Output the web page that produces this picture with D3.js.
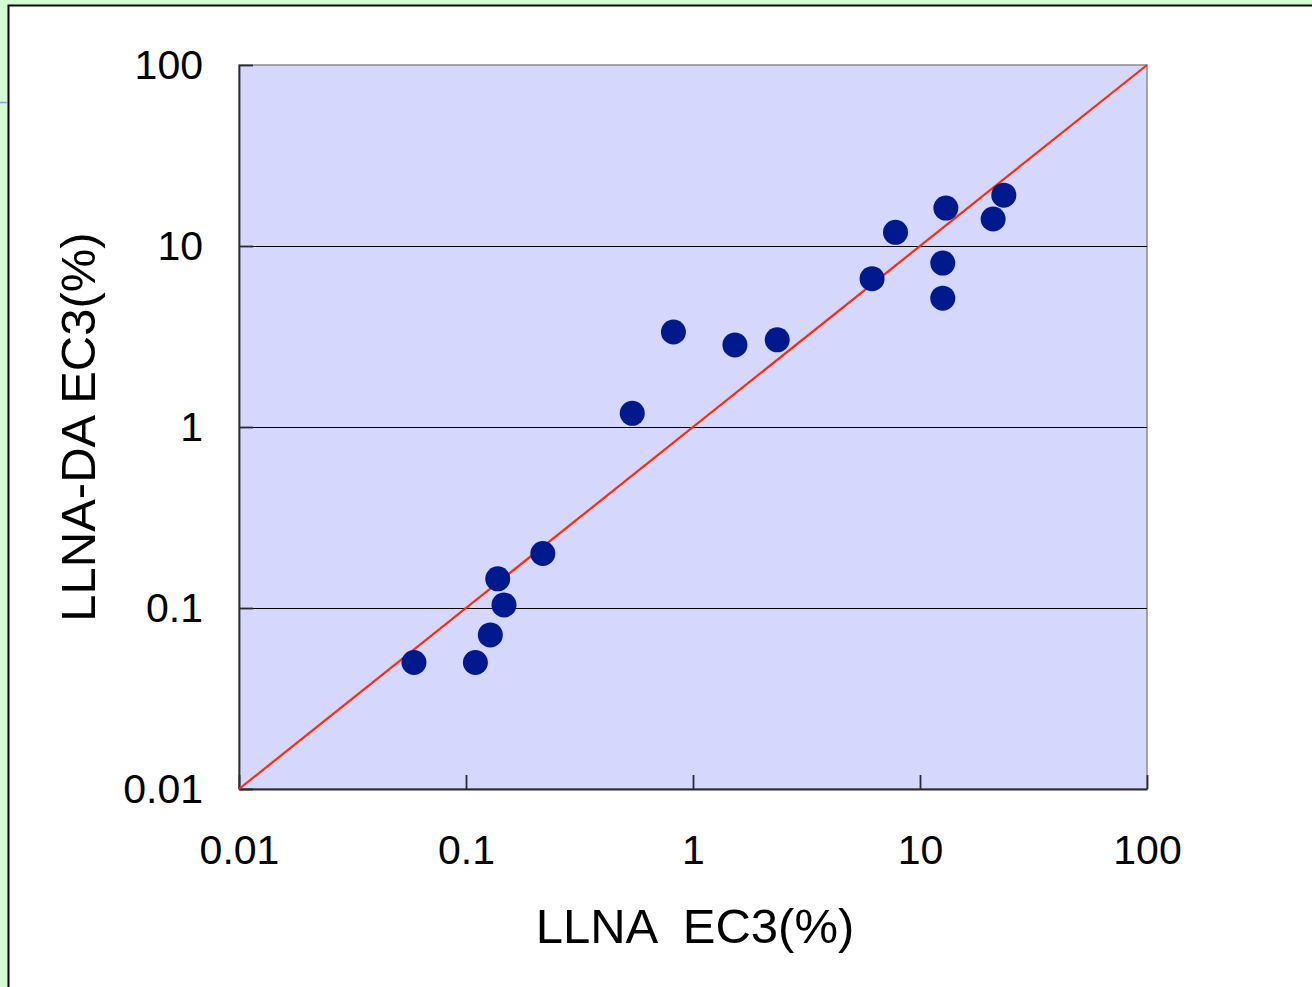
<!DOCTYPE html>
<html>
<head>
<meta charset="utf-8">
<script src="https://cdn.jsdelivr.net/npm/d3@7"></script>
<style>
  html, body { margin: 0; padding: 0; background: #d5fbd5; overflow: hidden; }
  text { font-family: "Liberation Sans", Arial, sans-serif; fill: #000; }
</style>
</head>
<body>
<svg class="chart"></svg>
<script>
// LLNA EC3 (%) vs LLNA-DA EC3 (%)
const llnaEC3   = [0.059, 0.11, 0.128, 0.138, 0.147, 0.218, 0.54, 0.82, 1.53, 2.35, 6.15, 7.8, 12.6, 12.6, 13.0, 21.0, 23.4];
const llnaDaEC3 = [0.05, 0.05, 0.071, 0.145, 0.104, 0.2, 1.19, 3.35, 2.84, 3.03, 6.6, 11.9, 8.05, 5.15, 16.2, 14.1, 19.1];
const tickValues = [0.01, 0.1, 1, 10, 100];
const tickLabels = ['0.01', '0.1', '1', '10', '100'];
const gridValues = [0.1, 1, 10];

const data = llnaEC3.map((x, i) => ({ x: x, y: llnaDaEC3[i] }));

const dims = { width: 1312, height: 987 };
const plot = { left: 239, top: 65, right: 1147, bottom: 789 };

const svg = d3.select('.chart')
  .attr('width', dims.width)
  .attr('height', dims.height);

// white panel with black frame
svg.append('rect')
  .attr('x', 8.5).attr('y', 5.5)
  .attr('width', dims.width + 20).attr('height', dims.height + 20)
  .attr('fill', '#fff')
  .attr('stroke', '#000')
  .attr('stroke-width', 2);

svg.append('line')
  .attr('x1', 0).attr('x2', 7).attr('y1', 102.5).attr('y2', 102.5)
  .attr('stroke', '#8e9bf2').attr('stroke-width', 1.5);

const x = d3.scaleLog().domain([0.01, 100]).range([plot.left, plot.right]);
const y = d3.scaleLog().domain([0.01, 100]).range([plot.bottom, plot.top]);

const graph = svg.append('g');

graph.append('rect')
  .attr('x', plot.left).attr('y', plot.top)
  .attr('width', plot.right - plot.left)
  .attr('height', plot.bottom - plot.top)
  .attr('fill', '#d5d7fc')
  .attr('stroke', '#8b8b98')
  .attr('stroke-width', 1.5);

graph.selectAll('line.grid')
  .data(gridValues)
  .enter()
  .append('line')
  .attr('class', 'grid')
  .attr('x1', plot.left).attr('x2', plot.right)
  .attr('y1', d => Math.round(y(d)) + 0.5)
  .attr('y2', d => Math.round(y(d)) + 0.5)
  .attr('stroke', '#000')
  .attr('stroke-width', 1.2);

// axes, ticks pointing into the plot
const xAxis = d3.axisBottom(x)
  .tickValues(tickValues)
  .tickFormat((d, i) => tickLabels[i])
  .tickSizeInner(-14)
  .tickSizeOuter(0)
  .tickPadding(45);

const yAxis = d3.axisLeft(y)
  .tickValues(tickValues)
  .tickFormat((d, i) => tickLabels[i])
  .tickSizeInner(-14)
  .tickSizeOuter(0)
  .tickPadding(36);

const gx = graph.append('g')
  .attr('transform', `translate(0, ${plot.bottom})`)
  .call(xAxis);

const gy = graph.append('g')
  .attr('transform', `translate(${plot.left}, 0)`)
  .call(yAxis);

[gx, gy].forEach(g => {
  g.select('.domain').attr('stroke', '#2a2a33').attr('stroke-width', 1.8);
  g.selectAll('.tick line').attr('stroke', '#2a2a33').attr('stroke-width', 1.8);
  g.selectAll('.tick text')
    .attr('font-family', '"Liberation Sans", Arial, sans-serif')
    .attr('font-size', 41)
    .attr('fill', '#000');
});
gx.selectAll('.tick text').attr('dy', '0.72em');
gy.selectAll('.tick text').attr('dy', '0.33em');

// 1:1 line
graph.append('line')
  .attr('x1', x(0.01)).attr('y1', y(0.01))
  .attr('x2', x(100)).attr('y2', y(100))
  .attr('stroke', '#ff2a0a')
  .attr('stroke-width', 2.2);

graph.selectAll('circle.pt')
  .data(data)
  .enter()
  .append('circle')
  .attr('class', 'pt')
  .attr('cx', d => x(d.x))
  .attr('cy', d => y(d.y))
  .attr('r', 12.5)
  .attr('fill', '#001a8e');

// axis titles
svg.append('text')
  .attr('x', 695).attr('y', 943)
  .attr('text-anchor', 'middle')
  .attr('font-size', 49)
  .style('white-space', 'pre')
  .text('LLNA  EC3(%)');

svg.append('text')
  .attr('transform', 'translate(95, 427) rotate(-90)')
  .attr('text-anchor', 'middle')
  .attr('font-size', 49)
  .text('LLNA-DA EC3(%)');
</script>
</body>
</html>
